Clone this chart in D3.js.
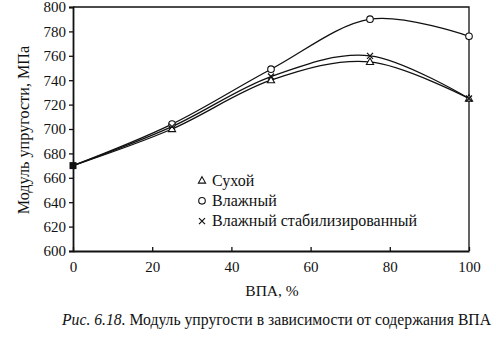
<!DOCTYPE html>
<html>
<head>
<meta charset="utf-8">
<script src="https://cdn.jsdelivr.net/npm/d3@7"></script>
<style>
  html, body { margin: 0; padding: 0; background: #fff; }
  svg { display: block; }
  text { font-family: "Liberation Serif", "Times New Roman", serif; fill: #111; }
</style>
</head>
<body>
<svg id="chart" width="496" height="340"></svg>
<script>
// VPA content, %
const vpa = [0, 25, 50, 75, 100];
// Elastic modulus, MPa
const dry = [670, 700, 740, 755, 725];
const wet = [670, 704, 749, 790, 776];
const wetStab = [670, 702, 743, 760, 725];

const xTicks = [0, 20, 40, 60, 80, 100];
const yTicks = [600, 620, 640, 660, 680, 700, 720, 740, 760, 780, 800];

const seriesNames = ["Сухой", "Влажный", "Влажный стабилизированный"];
const seriesMarks = ["triangle", "circle", "cross"];

const svg = d3.select("#chart");
const ink = "#111";

const x = d3.scaleLinear().domain([0, 100]).range([73, 469]);
const y = d3.scaleLinear().domain([600, 800]).range([251, 7]);

// frame: top and right edges
svg.append("path")
  .attr("d", `M${x(0)},${y(800)}H${x(100)}V${y(600)}`)
  .attr("fill", "none").attr("stroke", ink).attr("stroke-width", 1.3);

// y axis
const gy = svg.append("g").attr("transform", `translate(${x(0)},0)`)
  .call(d3.axisLeft(y).tickValues(yTicks).tickSize(4).tickPadding(3).tickFormat(d3.format("d")));
gy.select(".domain").attr("stroke", ink).attr("stroke-width", 1.8);
gy.selectAll(".tick line").attr("stroke", ink).attr("stroke-width", 1.3);
gy.selectAll(".tick text").attr("font-size", 15).attr("fill", ink);

// x axis (ticks point into the plot)
const gx = svg.append("g").attr("transform", `translate(0,${y(600)})`)
  .call(d3.axisBottom(x).tickValues(xTicks).tickSizeInner(-4).tickSizeOuter(0).tickPadding(10).tickFormat(d3.format("d")));
gx.select(".domain").attr("stroke", ink).attr("stroke-width", 1.8);
gx.selectAll(".tick line").attr("stroke", ink).attr("stroke-width", 1.3);
gx.selectAll(".tick text").attr("font-size", 15).attr("fill", ink);

// axis titles
svg.append("text")
  .attr("x", (x(0) + x(100)) / 2 + 1).attr("y", 296)
  .attr("text-anchor", "middle").attr("font-size", 15.5)
  .text("ВПА, %");

svg.append("text")
  .attr("transform", `translate(29,130) rotate(-90)`)
  .attr("text-anchor", "middle").attr("font-size", 16.2)
  .text("Модуль упругости, МПа");

// caption
const cap = svg.append("text").attr("x", 62).attr("y", 325).attr("font-size", 15.7);
cap.append("tspan").attr("font-style", "italic").text("Рис. 6.18.");
cap.append("tspan").text(" Модуль упругости в зависимости от содержания ВПА");

// smoothed curves
const line = d3.line()
  .x((d, i) => x(vpa[i]))
  .y(d => y(d))
  .curve(d3.curveCardinal.tension(0));

const allSeries = [dry, wet, wetStab];
allSeries.forEach(s => {
  svg.append("path").attr("d", line(s))
    .attr("fill", "none").attr("stroke", ink).attr("stroke-width", 1.3);
});

function drawMarker(g, kind, cx, cy) {
  if (kind === "triangle") {
    g.append("path")
      .attr("d", `M${cx},${cy - 3.8}L${cx + 3.6},${cy + 2.6}L${cx - 3.6},${cy + 2.6}Z`)
      .attr("fill", "#fff").attr("stroke", ink).attr("stroke-width", 1.1);
  } else if (kind === "circle") {
    g.append("circle").attr("cx", cx).attr("cy", cy).attr("r", 3.3)
      .attr("fill", "#fff").attr("stroke", ink).attr("stroke-width", 1.1);
  } else {
    g.append("path")
      .attr("d", `M${cx - 3},${cy - 3}L${cx + 3},${cy + 3}M${cx - 3},${cy + 3}L${cx + 3},${cy - 3}`)
      .attr("stroke", ink).attr("stroke-width", 1.2);
  }
}

// markers (the common start point is drawn as a filled square)
const gm = svg.append("g");
allSeries.forEach((s, k) => {
  s.forEach((v, i) => {
    if (i === 0) return;
    drawMarker(gm, seriesMarks[k], x(vpa[i]), y(v));
  });
});
gm.append("rect")
  .attr("x", x(vpa[0]) - 3.5).attr("y", y(dry[0]) - 3.5)
  .attr("width", 7).attr("height", 7).attr("fill", ink);

// legend
const lg = svg.append("g");
seriesNames.forEach((name, k) => {
  const ly = 180.5 + k * 20.3;
  drawMarker(lg, seriesMarks[k], 202, ly);
  lg.append("text").attr("x", 212).attr("y", ly + 5)
    .attr("font-size", 16).text(name);
});
</script>
</body>
</html>
